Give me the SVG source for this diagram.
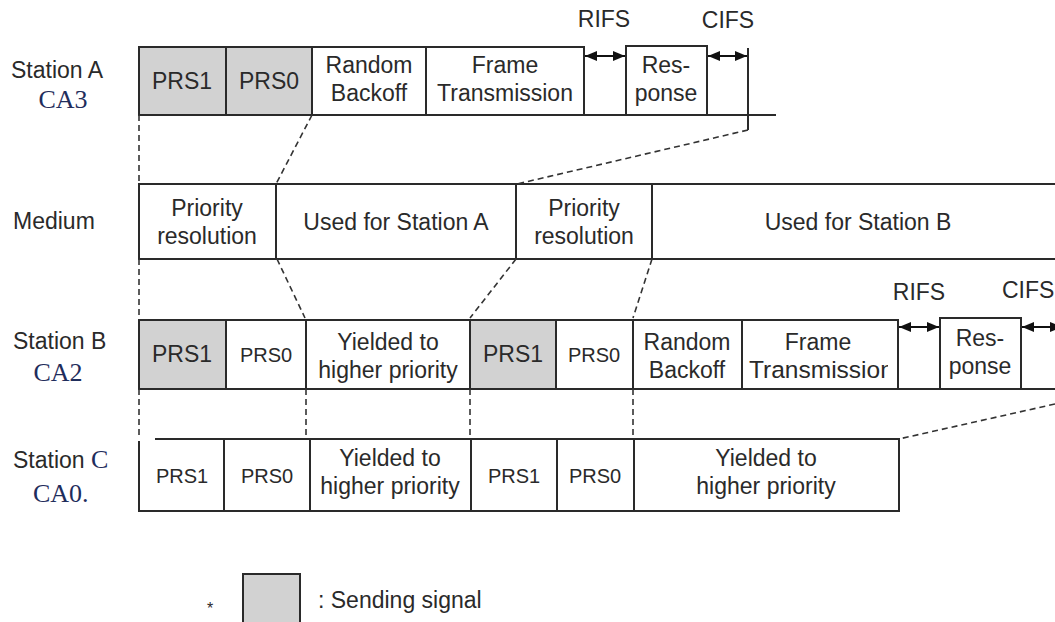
<svg xmlns="http://www.w3.org/2000/svg" width="1055" height="622" viewBox="0 0 1055 622">
<style>
text{font-family:"Liberation Sans",Arial,sans-serif;font-size:23px;fill:#2a2a2a;text-anchor:middle}
.lbl{text-anchor:start}
.ca{font-family:"Liberation Serif","Times New Roman",serif;font-size:26px;fill:#1f2d5c}
.sm{font-size:20px}
.cell{fill:#fff;stroke:#2a2a2a;stroke-width:2}
.sig{fill:#d2d2d2;stroke:#2a2a2a;stroke-width:2}
.ln{fill:none;stroke:#2a2a2a;stroke-width:2}
.dash{fill:none;stroke:#333;stroke-width:1.6;stroke-dasharray:6 4}
.arr{fill:none;stroke:#111;stroke-width:2;marker-start:url(#ah);marker-end:url(#ah)}
</style>
<defs>
<marker id="ah" markerUnits="userSpaceOnUse" markerWidth="12" markerHeight="10" refX="12" refY="5" orient="auto-start-reverse"><path d="M0,0 L12,5 L0,10 z" fill="#111"/></marker>
<clipPath id="clipB"><rect x="742" y="320" width="146" height="69"/></clipPath>
</defs>
<rect width="1055" height="622" fill="#fff"/>

<!-- row labels -->
<g id="labels">
<text class="lbl" x="11" y="78">Station A</text>
<text class="ca" x="63" y="108">CA3</text>
<text class="lbl" x="13" y="229">Medium</text>
<text class="lbl" x="13" y="349">Station B</text>
<text class="ca" x="58" y="381">CA2</text>
<text class="lbl" x="13" y="468">Station <tspan class="ca" style="font-size:26px">C</tspan></text>
<text class="ca lbl" x="33" y="502">CA0.</text>
</g>

<!-- Station A -->
<g id="A_prs1"><rect class="sig" x="139" y="47" width="87" height="68"/><text x="182" y="89">PRS1</text></g>
<g id="A_prs0"><rect class="sig" x="226" y="47" width="86" height="68"/><text x="269" y="89">PRS0</text></g>
<g id="A_backoff"><rect class="cell" x="312" y="47" width="114" height="68"/><text x="369" y="73">Random</text><text x="369" y="101">Backoff</text></g>
<g id="A_frame"><rect class="cell" x="426" y="47" width="158" height="68"/><text x="505" y="73">Frame</text><text x="505" y="101">Transmission</text></g>
<g id="A_response"><rect class="cell" x="626" y="46" width="81" height="69"/><text x="666" y="73">Res-</text><text x="666" y="101">ponse</text></g>
<g id="A_base"><path class="ln" d="M139,115 H776"/></g>
<text x="604" y="27">RIFS</text>
<text x="728" y="28">CIFS</text>

<!-- Medium -->
<g id="M_prio1"><rect class="cell" x="139" y="184" width="137" height="75"/><text x="207" y="216">Priority</text><text x="207" y="244">resolution</text></g>
<g id="M_useA"><rect class="cell" x="276" y="184" width="240" height="75"/><text x="396" y="230">Used for Station A</text></g>
<g id="M_prio2"><rect class="cell" x="516" y="184" width="136" height="75"/><text x="584" y="216">Priority</text><text x="584" y="244">resolution</text></g>
<g id="M_useB"><rect class="cell" x="652" y="184" width="420" height="75"/><text x="858" y="230">Used for Station B</text></g>

<!-- Station B -->
<g id="B_prs1a"><rect class="sig" x="139" y="320" width="87" height="69"/><text x="182" y="362">PRS1</text></g>
<g id="B_prs0a"><rect class="cell" x="226" y="320" width="80" height="69"/><text class="sm" x="266" y="362">PRS0</text></g>
<g id="B_yield"><rect class="cell" x="306" y="320" width="164" height="69"/><text x="388" y="350">Yielded to</text><text x="388" y="378">higher priority</text></g>
<g id="B_prs1b"><rect class="sig" x="470" y="320" width="86" height="69"/><text x="513" y="362">PRS1</text></g>
<g id="B_prs0b"><rect class="cell" x="556" y="320" width="77" height="69"/><text class="sm" x="594" y="362">PRS0</text></g>
<g id="B_backoff"><rect class="cell" x="633" y="320" width="109" height="69"/><text x="687" y="350">Random</text><text x="687" y="378">Backoff</text></g>
<g id="B_frame"><rect class="cell" x="742" y="320" width="156" height="69"/><text x="818" y="350">Frame</text><text clip-path="url(#clipB)" class="lbl" x="749" y="378" style="font-size:24.5px">Transmission</text></g>
<g id="B_response"><rect class="cell" x="940" y="318" width="81" height="71"/><text x="980" y="346">Res-</text><text x="980" y="374">ponse</text></g>
<g id="B_base"><path class="ln" d="M898,389 H1055"/></g>
<text x="919" y="300">RIFS</text>
<text class="lbl" x="1002" y="298">CIFS</text>

<!-- Station C -->
<g id="C_prs1a"><path class="ln" d="M155,439 H224 V511 H139 V441"/><text class="sm" x="182" y="483">PRS1</text></g>
<g id="C_prs0a"><rect class="cell" x="224" y="439" width="86" height="72"/><text class="sm" x="267" y="483">PRS0</text></g>
<g id="C_yield1"><rect class="cell" x="310" y="439" width="161" height="72"/><text x="390" y="466">Yielded to</text><text x="390" y="494">higher priority</text></g>
<g id="C_prs1b"><rect class="cell" x="471" y="439" width="86" height="72"/><text class="sm" x="514" y="483">PRS1</text></g>
<g id="C_prs0b"><rect class="cell" x="557" y="439" width="77" height="72"/><text class="sm" x="595" y="483">PRS0</text></g>
<g id="C_yield2"><rect class="cell" x="634" y="439" width="265" height="72"/><text x="766" y="466">Yielded to</text><text x="766" y="494">higher priority</text></g>

<!-- connectors -->
<g id="connectors">
<path class="ln" d="M748,48 V130"/>
<path class="arr" d="M585,56 H625"/>
<path class="arr" d="M708,56 H747"/>
<path class="arr" d="M899,327 H939"/>
<path class="arr" d="M1022,327 H1062"/>
<path class="dash" d="M139,115 V184"/>
<path class="dash" d="M312,115 L276,184"/>
<path class="dash" d="M748,130 L517,184"/>
<path class="dash" d="M139,259 V320"/>
<path class="dash" d="M277,259 L305,318"/>
<path class="dash" d="M516,259 L470,318"/>
<path class="dash" d="M652,259 L633,318"/>
<path class="dash" d="M139,389 V439"/>
<path class="dash" d="M306,389 V439"/>
<path class="dash" d="M470,389 V439"/>
<path class="dash" d="M633,389 V439"/>
<path class="dash" d="M1055,404 L899,439"/>
</g>

<!-- legend -->
<g id="legend">
<text x="210" y="614" style="font-size:16px">*</text>
<rect class="sig" x="243" y="574" width="57" height="56"/>
<text class="lbl" x="318" y="608">: Sending signal</text>
</g>
</svg>
